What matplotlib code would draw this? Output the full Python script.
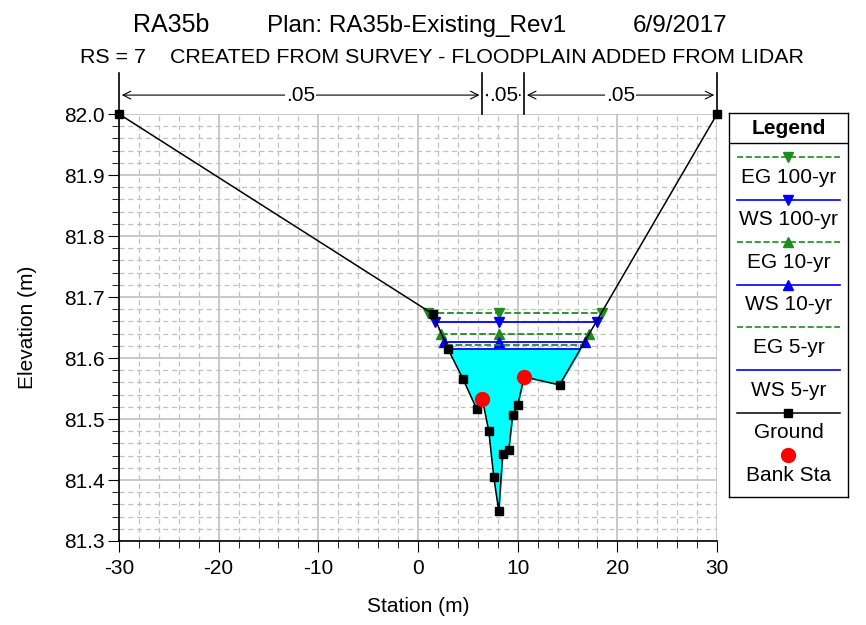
import matplotlib
matplotlib.use("Agg")
import matplotlib.pyplot as plt
import numpy as np

plt.rcParams['font.family'] = ['Liberation Sans', 'DejaVu Sans']
plt.rcParams['axes.unicode_minus'] = False

# ground survey points (station m, elevation m)
station = [-30.0, 1.5, 3.0, 4.5, 5.9, 6.45, 7.1, 7.6, 8.1, 8.5, 9.1, 9.5, 10.0, 10.65, 14.2, 30.0]
elev = [82.0, 81.672, 81.615, 81.566, 81.516, 81.533, 81.480, 81.405, 81.349,
        81.443, 81.449, 81.507, 81.523, 81.569, 81.556, 82.0]

bank_sta = [6.45, 10.65]
bank_elev = [81.533, 81.569]

# water profiles: name, elevation, left/right edge stations
profiles = ["EG 100-yr", "WS 100-yr", "EG 10-yr", "WS 10-yr", "EG 5-yr", "WS 5-yr"]
prof_elev = [81.674, 81.659, 81.639, 81.626, 81.621, 81.614]
prof_left = [1.0, 1.7, 2.3, 2.6, 2.8, 3.0]
prof_right = [18.5, 18.0, 17.2, 16.8, 16.6, 16.3]
thalweg = 8.1

# manning's n regions
n_bounds = [-30.0, 6.45, 10.65, 30.0]
n_values = [".05", ".05", ".05"]

styles = {
    "EG 100-yr": dict(color="#1e8c1e", ls="--", marker="v"),
    "WS 100-yr": dict(color="#0000ff", ls="-", marker="v"),
    "EG 10-yr": dict(color="#1e8c1e", ls="--", marker="^"),
    "WS 10-yr": dict(color="#0000ff", ls="-", marker="^"),
    "EG 5-yr": dict(color="#1e8c1e", ls="--", marker=None),
    "WS 5-yr": dict(color="#0000ff", ls="-", marker=None),
}

fig = plt.figure(figsize=(8.66, 6.25), dpi=100)
ax = fig.add_axes([0.1374, 0.1344, 0.6906, 0.6832])

# water fill for lowest profile
st = np.array(station)
el = np.array(elev)
ws5 = prof_elev[-1]
ax.fill_between(st, el, ws5, where=el <= ws5, interpolate=True, color="#00ffff", zorder=2)

for name, z, xl, xr in zip(profiles, prof_elev, prof_left, prof_right):
    s = styles[name]
    xs = [xl, thalweg, xr]
    ax.plot(xs, [z] * 3, color=s["color"], ls=s["ls"], lw=1.3,
            marker=s["marker"], ms=7, zorder=3)

ax.plot(station, elev, color="black", lw=1.1, marker="s", ms=6, zorder=4, clip_on=False)
ax.plot(bank_sta, bank_elev, ls="none", marker="o", color="#ff0000", ms=10, zorder=5)

ax.set_xlim(-30, 30)
ax.set_ylim(81.3, 82.0)
ax.set_xticks(np.arange(-30, 31, 10))
ax.set_xticks(np.arange(-30, 31, 2), minor=True)
ax.set_yticks(np.arange(81.3, 82.01, 0.1))
ax.set_yticks(np.arange(81.3, 82.001, 0.02), minor=True)
ax.yaxis.set_major_formatter(matplotlib.ticker.FormatStrFormatter("%.1f"))
ax.grid(which="major", color="#c0c0c0", lw=1.2)
ax.grid(which="minor", color="#c0c0c0", lw=0.9, ls=(0, (4, 3)))
ax.set_axisbelow(True)
ax.tick_params(which="major", length=8, labelsize=15, color="black")
ax.tick_params(which="minor", length=5, color="black")
ax.tick_params(axis="x", which="major", pad=5)
ax.tick_params(axis="y", which="major", pad=2)
for sp in ["top", "right"]:
    ax.spines[sp].set_visible(False)
for sp in ["left", "bottom"]:
    ax.spines[sp].set_linewidth(1.2)
ax.set_xlabel("Station (m)", fontsize=15)
ax.set_ylabel("Elevation (m)", fontsize=15)
ax.xaxis.set_label_coords(0.5, -0.13)
ax.yaxis.set_label_coords(-0.137, 0.5)

# manning's n arrows above the plot
for xb in n_bounds:
    ax.plot([xb, xb], [82.0, 82.068], color="black", lw=1.2, clip_on=False)
for i, n in enumerate(n_values):
    x0, x1 = n_bounds[i], n_bounds[i + 1]
    ax.annotate("", xy=(x0, 82.031), xytext=(x1, 82.031), annotation_clip=False,
                arrowprops=dict(arrowstyle="<->", color="black", lw=0.8, mutation_scale=14))
    ax.text((x0 + x1) / 2, 82.031, n, ha="center", va="center", fontsize=15,
            bbox=dict(boxstyle="square,pad=0.05", fc="white", ec="none"), clip_on=False)

fig.text(133 / 866, 0.9488, "RA35b", ha="left", va="baseline", fontsize=18)
fig.text(267 / 866, 0.9488, "Plan: RA35b-Existing_Rev1", ha="left", va="baseline", fontsize=17.5)
fig.text(727 / 866, 0.9488, "6/9/2017", ha="right", va="baseline", fontsize=17.5)
fig.text(442 / 866, 0.8992, "RS = 7    CREATED FROM SURVEY - FLOODPLAIN ADDED FROM LIDAR",
         ha="center", va="baseline", fontsize=15.4)

# legend panel
lg = fig.add_axes([0.8418, 0.2048, 0.1374, 0.6142])
lg.set_xlim(0, 1)
lg.set_ylim(384, 0)
lg.set_xticks([])
lg.set_yticks([])
for sp in lg.spines.values():
    sp.set_linewidth(1.0)
lg.text(0.5, 15, "Legend", ha="center", va="center", fontsize=15, fontweight="bold")
lg.axhline(30, color="black", lw=1.0)
entries = profiles + ["Ground", "Bank Sta"]
for i, name in enumerate(entries):
    yl = 44 + i * 42.6
    if name in styles:
        s = styles[name]
        lg.plot([0.07, 0.93], [yl, yl], color=s["color"], ls=s["ls"], lw=1.2)
        if s["marker"]:
            lg.plot([0.5], [yl], color=s["color"], marker=s["marker"], ms=7)
    elif name == "Ground":
        lg.plot([0.07, 0.93], [yl, yl], color="black", lw=1.1)
        lg.plot([0.5], [yl], color="black", marker="s", ms=6)
    else:
        lg.plot([0.5], [yl], color="#ff0000", marker="o", ms=10)
    lg.text(0.5, yl + 20, name, ha="center", va="center", fontsize=15)

fig.savefig("out.png", dpi=100)
